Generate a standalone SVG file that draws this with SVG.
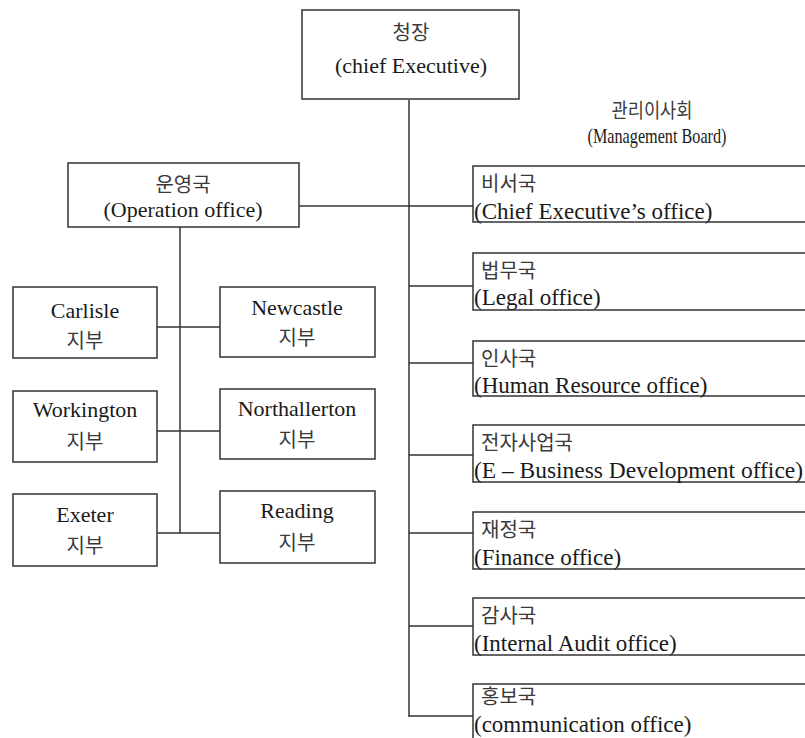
<svg xmlns="http://www.w3.org/2000/svg" width="805" height="738" viewBox="0 0 805 738">
  <style>
    .box { fill: #ffffff; stroke: #333333; stroke-width: 1.5; }
    .wire { fill: none; stroke: #333333; stroke-width: 1.5; }
    .en { font-family: "Liberation Serif", "Times New Roman", serif; font-size: 22px; fill: #1a1a1a; }
    .en-r { font-family: "Liberation Serif", "Times New Roman", serif; font-size: 23px; fill: #1a1a1a; }
    .ko { font-family: "Noto Sans CJK KR", "Noto Sans", sans-serif; font-size: 20px; fill: #3a3a3a; }
    .mid { text-anchor: middle; }
  </style>
  <rect width="805" height="738" fill="#ffffff"/>

  <!-- connectors -->
  <g id="connectors" class="wire">
    <!-- chief executive trunk -->
    <path d="M409 100 V717"/>
    <path d="M409 206 H473 M409 286 H473 M409 363 H473 M409 455 H473 M409 533 H473 M409 626 H473 M409 716 H473"/>
    <!-- operation office to trunk -->
    <path d="M299 206 H409"/>
    <!-- operation office branch line -->
    <path d="M180 227 V533"/>
    <path d="M157 327 H220 M157 431 H220 M157 533 H220"/>
  </g>

  <g id="chief">
    <rect class="box" x="302" y="10" width="217" height="89"/>
    <text class="ko mid" x="411" y="40">청장</text>
    <text class="en mid" x="411" y="73">(chief Executive)</text>
  </g>

  <g id="board-label">
    <text class="ko mid" x="652" y="118" font-size="16" textLength="81" lengthAdjust="spacingAndGlyphs">관리이사회</text>
    <text class="en mid" x="657" y="143" font-size="17" textLength="139" lengthAdjust="spacingAndGlyphs">(Management Board)</text>
  </g>

  <g id="operation">
    <rect class="box" x="68" y="163" width="231" height="64"/>
    <text class="ko mid" x="183" y="192">운영국</text>
    <text class="en mid" x="183" y="217">(Operation office)</text>
  </g>

  <!-- regional branches -->
  <g id="carlisle">
    <rect class="box" x="13" y="287" width="144" height="71"/>
    <text class="en mid" x="85" y="318">Carlisle</text>
    <text class="ko mid" x="85" y="348">지부</text>
  </g>
  <g id="newcastle">
    <rect class="box" x="220" y="287" width="155" height="70"/>
    <text class="en mid" x="297" y="315">Newcastle</text>
    <text class="ko mid" x="297" y="345">지부</text>
  </g>
  <g id="workington">
    <rect class="box" x="13" y="391" width="144" height="71"/>
    <text class="en mid" x="85" y="417">Workington</text>
    <text class="ko mid" x="85" y="449">지부</text>
  </g>
  <g id="northallerton">
    <rect class="box" x="220" y="389" width="155" height="70"/>
    <text class="en mid" x="297" y="416">Northallerton</text>
    <text class="ko mid" x="297" y="447">지부</text>
  </g>
  <g id="exeter">
    <rect class="box" x="13" y="494" width="144" height="72"/>
    <text class="en mid" x="85" y="522">Exeter</text>
    <text class="ko mid" x="85" y="553">지부</text>
  </g>
  <g id="reading">
    <rect class="box" x="220" y="491" width="155" height="72"/>
    <text class="en mid" x="297" y="518">Reading</text>
    <text class="ko mid" x="297" y="550">지부</text>
  </g>

  <!-- management board offices (open to the right edge) -->
  <g id="secretariat">
    <rect class="box" x="473" y="166" width="340" height="56"/>
    <text class="ko" x="481" y="191">비서국</text>
    <text class="en-r" x="474" y="219">(Chief Executive’s office)</text>
  </g>
  <g id="legal">
    <rect class="box" x="473" y="253" width="340" height="57"/>
    <text class="ko" x="481" y="278">법무국</text>
    <text class="en-r" x="474" y="305">(Legal office)</text>
  </g>
  <g id="hr">
    <rect class="box" x="473" y="341" width="340" height="55"/>
    <text class="ko" x="481" y="366">인사국</text>
    <text class="en-r" x="474" y="393">(Human Resource office)</text>
  </g>
  <g id="ebusiness">
    <rect class="box" x="473" y="425" width="340" height="57"/>
    <text class="ko" x="481" y="450">전자사업국</text>
    <text class="en-r" x="474" y="478" textLength="329" lengthAdjust="spacingAndGlyphs">(E – Business Development office)</text>
  </g>
  <g id="finance">
    <rect class="box" x="473" y="512" width="340" height="57"/>
    <text class="ko" x="481" y="537">재정국</text>
    <text class="en-r" x="474" y="565">(Finance office)</text>
  </g>
  <g id="audit">
    <rect class="box" x="473" y="598" width="340" height="57"/>
    <text class="ko" x="481" y="623">감사국</text>
    <text class="en-r" x="474" y="651">(Internal Audit office)</text>
  </g>
  <g id="communication">
    <rect class="box" x="473" y="684" width="340" height="60"/>
    <text class="ko" x="481" y="704">홍보국</text>
    <text class="en-r" x="474" y="732">(communication office)</text>
  </g>
</svg>
